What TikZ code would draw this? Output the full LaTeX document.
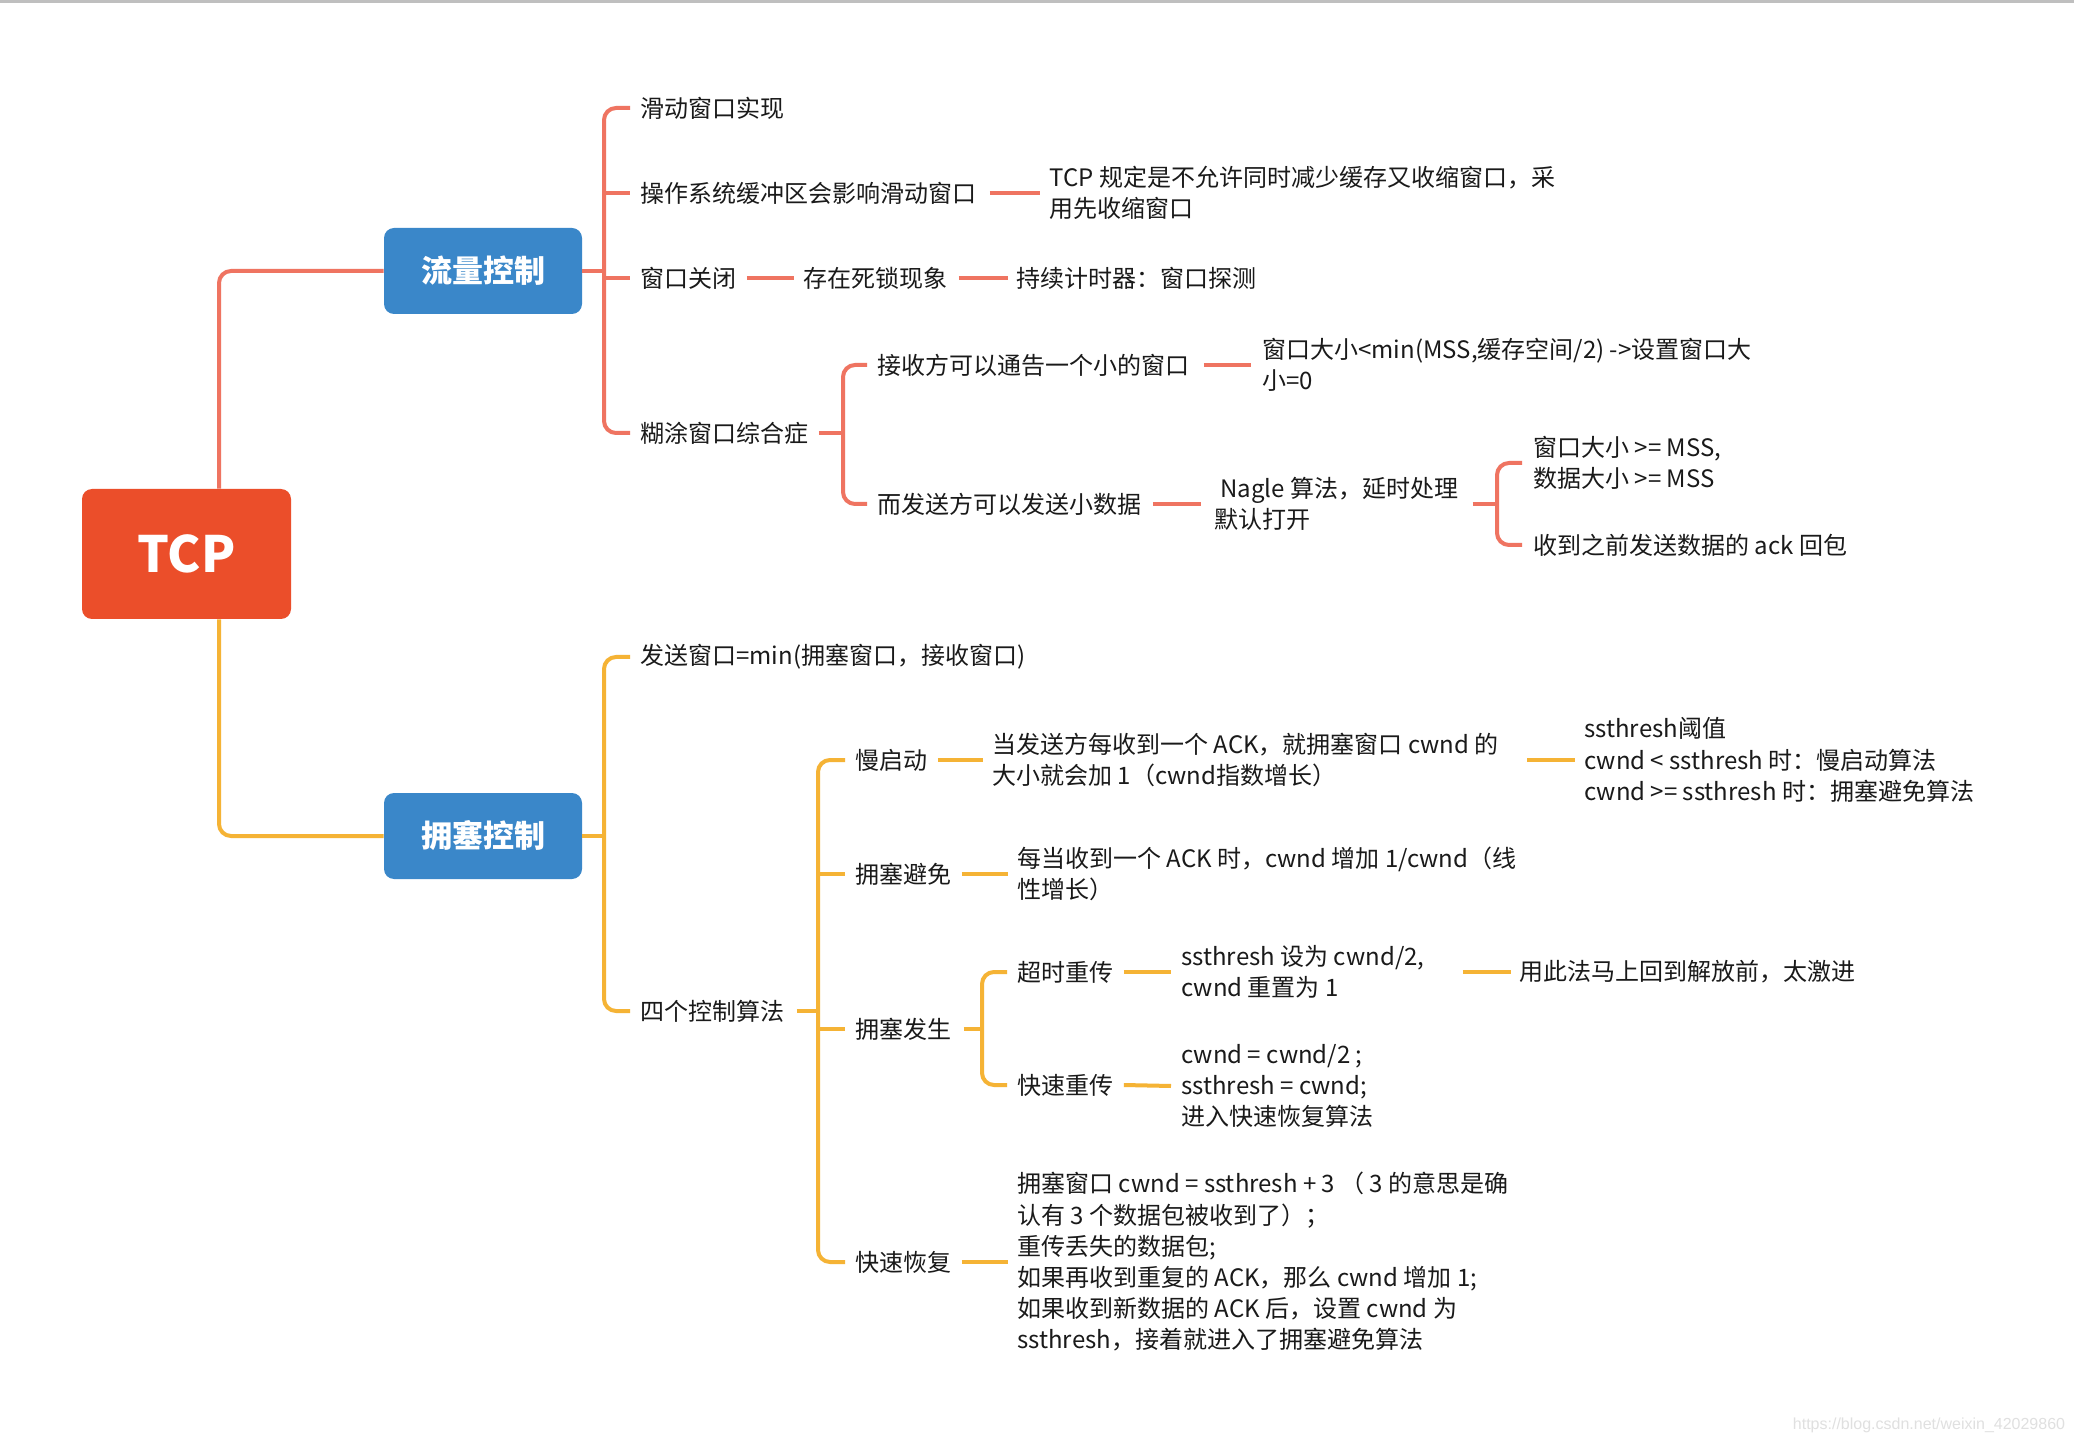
\documentclass[tikz,border=0pt]{standalone}
\usepackage{fontspec}
\setmainfont{Noto Sans CJK SC}
\newfontfamily\wmfont{Liberation Sans}
\definecolor{redl}{HTML}{EF7461}
\definecolor{yell}{HTML}{F5B335}
\definecolor{bluebox}{HTML}{3A87C9}
\definecolor{tcpbox}{HTML}{EB4E2A}
\definecolor{txtc}{HTML}{1A1A1A}
\begin{document}
\begin{tikzpicture}[x=0.5pt,y=-0.5pt,
  txt/.style={anchor=west, inner sep=0pt, font=\fontsize{12pt}{15.6pt}\selectfont, align=left, text=txtc},
  topbox/.style={rounded corners=5pt, minimum width=99pt, minimum height=43pt, inner sep=0pt, text=white, font=\fontsize{15.5pt}{18pt}\selectfont\bfseries},
  rl/.style={draw=redl, line width=2pt},
  yl/.style={draw=yell, line width=2pt},
  trunkr/.style={rl, rounded corners=6pt},
  trunky/.style={yl, rounded corners=6pt},
]
\useasboundingbox (0,0) rectangle (2074,1444);
\fill[white] (0,0) rectangle (2074,1444);
\fill[black!25] (0,0) rectangle (2074,3);

% ---------- main boxes ----------
\node[topbox, fill=tcpbox, minimum width=104.5pt, minimum height=65pt, font=\fontsize{25pt}{30pt}\selectfont\bfseries] (tcp) at (186.5,554) {TCP};
\node[topbox, fill=bluebox] (fl) at (483,271) {流量控制};
\node[topbox, fill=bluebox] (yc) at (483,836) {拥塞控制};

% ---------- flow control texts ----------
\node[txt] (a1) at (640,108) {滑动窗口实现};
\node[txt] (a2) at (640,193) {操作系统缓冲区会影响滑动窗口};
\node[txt] (a2n) at (1049,193) {TCP 规定是不允许同时减少缓存又收缩窗口，采\\用先收缩窗口};
\node[txt] (a3) at (640,278) {窗口关闭};
\node[txt] (a3n) at (803,278) {存在死锁现象};
\node[txt] (a3nn) at (1016,278) {持续计时器：窗口探测};
\node[txt] (a4) at (640,433) {糊涂窗口综合症};
\node[txt] (b1) at (877,365) {接收方可以通告一个小的窗口};
\node[txt] (b1n) at (1262,365) {窗口大小<min(MSS,缓存空间/2) ->设置窗口大\\小=0};
\node[txt] (b2) at (877,504) {而发送方可以发送小数据};
\node[txt] (b2n) at (1214,504) {\hspace*{3pt}Nagle 算法，延时处理\\默认打开};
\node[txt] (b2a) at (1533,463) {窗口大小 >= MSS,\\数据大小 >= MSS};
\node[txt] (b2b) at (1533,545) {收到之前发送数据的 ack 回包};

% ---------- congestion control texts ----------
\node[txt] (y1) at (640,657) {发送窗口=min(拥塞窗口，接收窗口)};
\node[txt] (y2) at (640,1011) {四个控制算法};
\node[txt] (z1) at (855,760) {慢启动};
\node[txt] (z1n) at (992,760) {当发送方每收到一个 ACK，就拥塞窗口 cwnd 的\\大小就会加 1（cwnd指数增长）};
\node[txt] (z1nn) at (1584,760) {ssthresh阈值\\cwnd < ssthresh 时：慢启动算法\\cwnd >= ssthresh 时：拥塞避免算法};
\node[txt] (z2) at (855,874) {拥塞避免};
\node[txt] (z2n) at (1017,874) {每当收到一个 ACK 时，cwnd 增加 1/cwnd（线\\性增长）};
\node[txt] (z3) at (855,1029) {拥塞发生};
\node[txt] (w1) at (1017,972) {超时重传};
\node[txt] (w1n) at (1181,972) {ssthresh 设为 cwnd/2,\\cwnd 重置为 1};
\node[txt] (w1nn) at (1519,972) {用此法马上回到解放前，太激进};
\node[txt] (w2) at (1017,1085) {快速重传};
\node[txt] (w2n) at (1181,1086) {cwnd = cwnd/2 ;\\ssthresh = cwnd;\\进入快速恢复算法};
\node[txt] (z4) at (855,1262) {快速恢复};
\node[txt] (z4n) at (1017,1262) {拥塞窗口 cwnd = ssthresh + 3 （ 3 的意思是确\\认有 3 个数据包被收到了）；\\重传丢失的数据包;\\如果再收到重复的 ACK，那么 cwnd 增加 1;\\如果收到新数据的 ACK 后，设置 cwnd 为\\ssthresh，接着就进入了拥塞避免算法};

% ---------- watermark ----------
\node[font=\wmfont\fontsize{8pt}{9pt}\selectfont, text=black!12, inner sep=0pt] (wm) at (1929,1425) {https://blog.csdn.net/weixin\_42029860};

% ---------- connectors: root ----------
\draw[trunkr] ([xshift=16.25pt]tcp.north) |- (fl.west);
\draw[trunky] ([xshift=16.25pt]tcp.south) |- (yc.west);

% ---------- connectors: flow control ----------
\coordinate (t1) at (604,271);
\draw[rl] (fl.east) -- (t1);
\draw[trunkr] ([xshift=-5pt]a1.west) -- (a1.west -| t1) -- (a4.west -| t1) -- ([xshift=-5pt]a4.west);
\draw[rl] (a2.west -| t1) -- ([xshift=-5pt]a2.west);
\draw[rl] (a3.west -| t1) -- ([xshift=-5pt]a3.west);
\draw[rl] ([xshift=6.5pt]a2.east) -- ([xshift=-4.5pt]a2n.west);
\draw[rl] ([xshift=5pt]a3.east) -- ([xshift=-4.5pt]a3n.west);
\draw[rl] ([xshift=5.5pt]a3n.east) -- ([xshift=-4pt]a3nn.west);
\coordinate (t2) at (843,433);
\draw[rl] ([xshift=5pt]a4.east) -- (t2);
\draw[trunkr] ([xshift=-5pt]b1.west) -- (b1.west -| t2) -- (b2.west -| t2) -- ([xshift=-5pt]b2.west);
\draw[rl] ([xshift=7pt]b1.east) -- ([xshift=-5.5pt]b1n.west);
\draw[rl] ([xshift=5.5pt]b2.east) -- ([xshift=-6.5pt]b2n.west);
\coordinate (t3) at (1497,504);
\draw[rl] ([xshift=7pt]b2n.east) -- (t3);
\draw[trunkr] ([xshift=-5.5pt]b2a.west) -- (b2a.west -| t3) -- (b2b.west -| t3) -- ([xshift=-5.5pt]b2b.west);

% ---------- connectors: congestion control ----------
\coordinate (t4) at (604,836);
\draw[yl] (yc.east) -- (t4);
\draw[trunky] ([xshift=-5pt]y1.west) -- (y1.west -| t4) -- (y2.west -| t4) -- ([xshift=-5pt]y2.west);
\coordinate (t5) at (818,1011);
\draw[yl] ([xshift=6pt]y2.east) -- (t5);
\draw[trunky] ([xshift=-5pt]z1.west) -- (z1.west -| t5) -- (z4.west -| t5) -- ([xshift=-5pt]z4.west);
\draw[yl] (z2.west -| t5) -- ([xshift=-5pt]z2.west);
\draw[yl] (z3.west -| t5) -- ([xshift=-5pt]z3.west);
\draw[yl] ([xshift=5pt]z1.east) -- ([xshift=-4.5pt]z1n.west);
\draw[yl] ([xshift=14pt]z1n.east) -- ([xshift=-4.5pt]z1nn.west);
\draw[yl] ([xshift=5pt]z2.east) -- ([xshift=-4.5pt]z2n.west);
\draw[yl] ([xshift=5pt]z4.east) -- ([xshift=-4.5pt]z4n.west);
\coordinate (t6) at (982,1029);
\draw[yl] ([xshift=6pt]z3.east) -- (t6);
\draw[trunky] ([xshift=-5pt]w1.west) -- (w1.west -| t6) -- (w2.west -| t6) -- ([xshift=-5pt]w2.west);
\draw[yl] ([xshift=5pt]w1.east) -- ([xshift=-5pt]w1n.west);
\draw[yl] ([xshift=19pt]w1n.east) -- ([xshift=-4pt]w1nn.west);
\draw[yl] ([xshift=5pt]w2.east) -- ([xshift=-5pt]w2n.west);
\end{tikzpicture}
\end{document}
